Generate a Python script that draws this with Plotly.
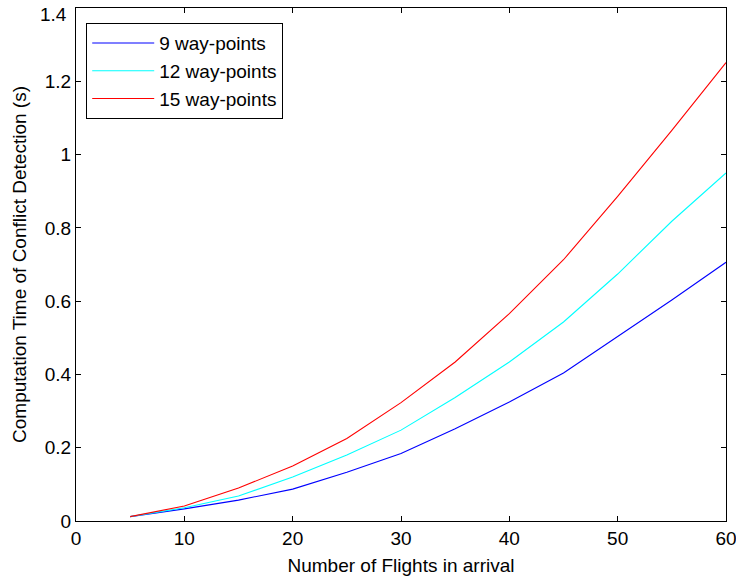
import plotly.graph_objects as go

flights = [5, 10, 15, 20, 25, 30, 35, 40, 45, 50, 55, 60]
wp9 = [0.012, 0.033, 0.057, 0.087, 0.133, 0.184, 0.252, 0.325, 0.404, 0.504, 0.603, 0.706]
wp12 = [0.012, 0.036, 0.068, 0.120, 0.180, 0.248, 0.337, 0.434, 0.543, 0.674, 0.818, 0.950]
wp15 = [0.012, 0.041, 0.090, 0.150, 0.225, 0.323, 0.434, 0.566, 0.713, 0.886, 1.066, 1.251]
names = ["9 way-points", "12 way-points", "15 way-points"]
colors = ["#0000FF", "#00FFFF", "#FF0000"]
xticks = [0, 10, 20, 30, 40, 50, 60]
yticks = [0, 0.2, 0.4, 0.6, 0.8, 1.0, 1.2, 1.4]
ytick_labels = ["0", "0.2", "0.4", "0.6", "0.8", "1", "1.2", "1.4"]

fig = go.Figure()
for i, (ys, nm, c) in enumerate(zip([wp9, wp12, wp15], names, colors)):
    fig.add_trace(go.Scatter(x=flights, y=ys, mode="lines", name=nm,
                             line=dict(color=c, width=1.1)))

font = "Liberation Sans, Arial, sans-serif"
axis_common = dict(showline=True, linecolor="black", linewidth=1.2, mirror="ticks",
                   ticks="inside", ticklen=5, tickcolor="black", showgrid=False,
                   zeroline=False, ticklabeloverflow="allow", automargin=False,
                   tickfont=dict(family=font, size=19, color="black"))

# the top y label is drawn as an annotation so it can sit just inside the page (as in MATLAB)
shown_labels = ytick_labels[:-1] + [""]

fig.update_layout(
    width=736, height=579,
    margin=dict(l=76, r=10, t=8, b=58),
    paper_bgcolor="white", plot_bgcolor="white",
    showlegend=True,
    legend=dict(x=0.0154, y=0.9708, xanchor="left", yanchor="top",
                bordercolor="black", borderwidth=1.2, bgcolor="white",
                font=dict(family=font, size=19, color="black"),
                itemwidth=62, entrywidth=152),
    xaxis=dict(range=[0, 60], tickvals=xticks,
               title=dict(text="Number of Flights in arrival", standoff=10,
                          font=dict(family=font, size=19, color="black")),
               **axis_common),
    yaxis=dict(range=[0, 1.4], tickvals=yticks, ticktext=shown_labels,
               title=dict(text="Computation Time of Conflict Detection (s)", standoff=13,
                          font=dict(family=font, size=19, color="black")),
               **axis_common),
    annotations=[dict(xref="paper", yref="y", x=0, y=yticks[-1], text=ytick_labels[-1],
                      showarrow=False, xanchor="right", yanchor="middle",
                      xshift=-7, yshift=-6,
                      font=dict(family=font, size=19, color="black"))],
)

fig.write_html("out.html", config={"displayModeBar": False},
               post_script="document.body.style.margin='0';")
